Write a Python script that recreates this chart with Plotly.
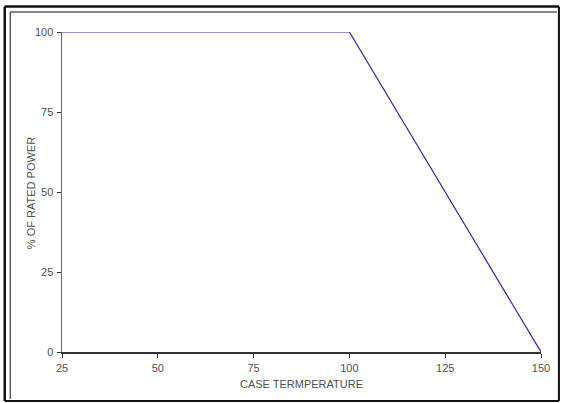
import plotly.graph_objects as go

temperature = [25, 100, 150]
rated_power = [100, 100, 0]
x_ticks = [25, 50, 75, 100, 125, 150]
y_ticks = [0, 25, 50, 75, 100]

W, H = 562, 403
L, R, T, B = 62, 19, 32, 51
pw, ph = W - L - R, H - T - B

def px(x):
    return (x - L) / pw

def py(y):
    return (H - B - y) / ph

fig = go.Figure()
fig.add_trace(go.Scatter(x=temperature, y=rated_power, mode="lines",
                         line=dict(color="#2a2aa0", width=1.2),
                         showlegend=False, hoverinfo="skip", cliponaxis=False))

font = dict(family="Liberation Sans, Arial, sans-serif", size=11, color="#505050")

fig.update_layout(
    width=W, height=H,
    margin=dict(l=L, r=R, t=T, b=B),
    paper_bgcolor="white", plot_bgcolor="white",
    font=font,
    xaxis=dict(range=[25, 150], tickvals=x_ticks, ticks="outside", ticklen=4,
               tickcolor="#333333", showline=True, linecolor="#333333", linewidth=1.5,
               showgrid=False, zeroline=False, tickfont=font, ticklabelstandoff=1,
               title=dict(text="CASE TERMPERATURE", font=font, standoff=7)),
    yaxis=dict(range=[0, 100], tickvals=y_ticks, ticks="outside", ticklen=4,
               tickcolor="#333333", showline=True, linecolor="#666666", linewidth=1.5,
               showgrid=False, zeroline=False, tickfont=font, ticklabelstandoff=1),
)

fig.add_annotation(text="% OF RATED POWER", textangle=-90, showarrow=False,
                   xref="paper", yref="paper", x=px(31), y=py(193),
                   xanchor="center", yanchor="middle", font=font)

# double frame around the chart
frame = [
    (4.5, 6.5, 4.5, 401, 2.5),
    (4.5, 6.5, 561, 6.5, 2.5),
    (561, 6.5, 561, 401, 2),
    (4.5, 401, 561, 401, 2),
    (10, 12, 10, 399, 1),
    (10, 12, 559, 12, 1),
]
for x0, y0, x1, y1, w in frame:
    fig.add_shape(type="line", xref="paper", yref="paper",
                  x0=px(x0), y0=py(y0), x1=px(x1), y1=py(y1),
                  line=dict(color="#111111", width=w))

fig.write_html("out.html", config={"displayModeBar": False, "staticPlot": True},
               post_script="document.body.style.margin='0';document.body.style.overflow='hidden';")
